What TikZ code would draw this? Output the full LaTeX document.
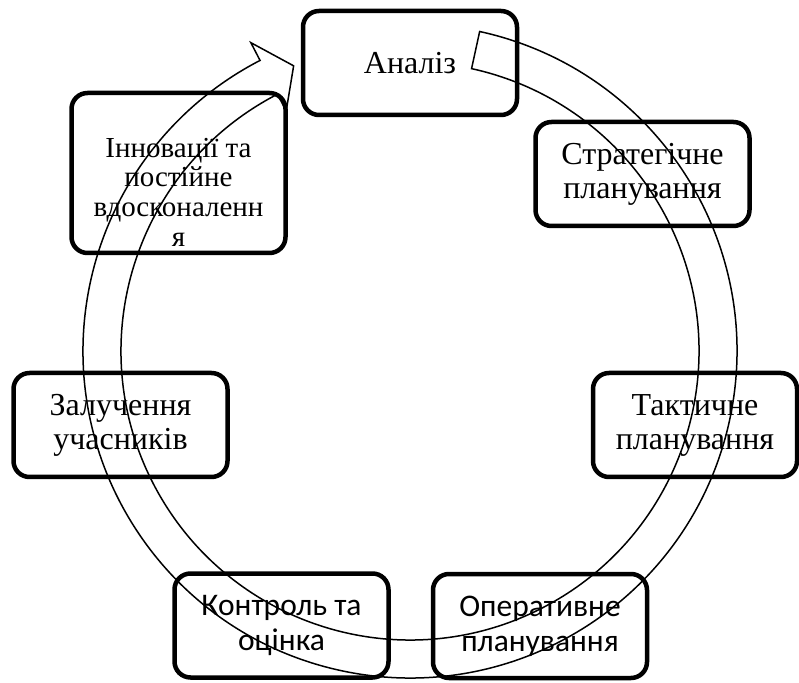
\documentclass[tikz,border=0pt]{standalone}
\usepackage{fontspec}
\setmainfont{Liberation Serif}
\newfontfamily\calib{Carlito}
\begin{document}
\begin{tikzpicture}[x=1pt,y=1pt,
  stage/.style={draw=black, line width=4.5pt, rounded corners=16pt, align=center,
    inner sep=0pt, minimum width=214pt, minimum height=104pt,
    font=\fontsize{32}{34}\selectfont},
  stagetext/.style={align=center, inner sep=0pt, font=\fontsize{29}{29.7}\selectfont},
  cyclearrow/.style={draw=black, line width=1.5pt, line join=miter}]
\useasboundingbox (0,0) rectangle (799,682);
\coordinate (C) at (410,331);
% circular arrow band
\begin{scope}[shift={(C)}]
\draw[cyclearrow] (77.7:327) arc[start angle=77.7, end angle=-242.7, radius=327]
  -- (117.3:347) -- (112.2:308) -- (117.3:270) -- (117.3:289)
  arc[start angle=-242.7, end angle=77.7, radius=289] -- cycle;
\end{scope}
% stages
\node[stage] (analiz) at (410,619) {Аналіз};
\node[stage] (strat) at (642.5,508) {Стратегічне\\планування};
\node[stage, minimum width=204pt] (takt) at (695,257) {Тактичне\\планування};
\node[stage, font=\calib\fontsize{31.5}{35}\selectfont] (oper) at (540,56) {Оперативне\\планування};
\node[stage, font=\calib\fontsize{31.5}{35}\selectfont] (kontr) at (281.5,56.5) {Контроль та\\оцінка};
\node[stage] (zal) at (120.5,257) {Залучення\\учасників};
\node[stage, minimum height=160pt] (innov) at (178.5,509) {};
\node[stagetext] (innovtext) at (178.5,490) {Інновації та\\постійне\\вдосконаленн\\я};
\end{tikzpicture}
\end{document}
